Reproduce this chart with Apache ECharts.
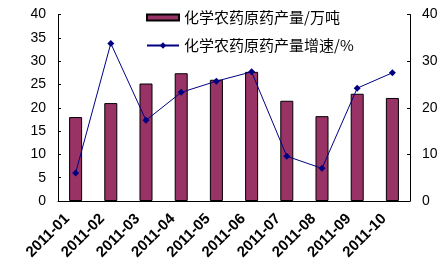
<!DOCTYPE html>
<html><head><meta charset="utf-8">
<script src="https://cdn.jsdelivr.net/npm/echarts@6/dist/echarts.min.js"></script>
<style>html,body{margin:0;padding:0;background:#fff}#c{width:448px;height:264px}</style>
</head><body><div id="c"></div>
<script>
var categories = ['2011-01','2011-02','2011-03','2011-04','2011-05','2011-06','2011-07','2011-08','2011-09','2011-10'];
var output = [18.0, 21.0, 25.2, 27.4, 26.0, 27.7, 21.5, 18.2, 23.0, 22.1];
var growth = [6.0, 33.8, 17.3, 23.3, 25.7, 27.7, 9.6, 7.0, 24.2, 27.5];
var leftTicks = [0,5,10,15,20,25,30,35,40];
var rightTicks = [0,10,20,30,40];
var barName = '化学农药原药产量/万吨';
var lineName = '化学农药原药产量增速/%';

var chart = echarts.init(document.getElementById('c'), null, {renderer:'canvas'});
var axisFont = {fontFamily:'Arial, Liberation Sans', fontSize:14, color:'#000'};
chart.setOption({
  animation:false,
  grid:{left:58, right:38, top:14.5, bottom:63},
  legend:[
    {data:[{name:barName, icon:'rect'}], left:141, top:5, itemWidth:32, itemHeight:6, itemGap:4,
     textStyle:{fontFamily:'Noto Sans CJK SC', fontSize:15, color:'#000'}},
    {data:[lineName], left:141, top:33, itemWidth:32, itemHeight:8, itemGap:4,
     textStyle:{fontFamily:'Noto Sans CJK SC', fontSize:15, color:'#000'}}
  ],
  xAxis:{type:'category', data:categories, boundaryGap:true,
    axisLine:{lineStyle:{color:'#000', width:1}},
    axisTick:{inside:true, length:3, lineStyle:{color:'#000'}},
    axisLabel:{rotate:45, interval:0, margin:7, padding:[0,12,0,0],
      fontFamily:'Arial, Liberation Sans', fontWeight:'bold', fontSize:15, color:'#000'}},
  yAxis:[
    {type:'value', min:0, max:40, interval:5, position:'left',
     axisLine:{show:true, lineStyle:{color:'#000'}},
     axisTick:{show:true, inside:true, length:3, lineStyle:{color:'#000'}},
     splitLine:{show:false},
     axisLabel:Object.assign({margin:12}, axisFont)},
    {type:'value', min:0, max:40, interval:10, position:'right',
     axisLine:{show:true, lineStyle:{color:'#000'}},
     axisTick:{show:true, inside:true, length:3, lineStyle:{color:'#000'}},
     splitLine:{show:false},
     axisLabel:Object.assign({margin:12}, axisFont)}
  ],
  series:[
    {name:barName, type:'bar', data:output, yAxisIndex:0, barWidth:'37%',
     itemStyle:{color:'#993366', borderColor:'#000', borderWidth:1}},
    {name:lineName, type:'line', data:growth, yAxisIndex:1,
     symbol:'diamond', symbolSize:7,
     lineStyle:{color:'#000080', width:1},
     itemStyle:{color:'#000080'}}
  ]
});
</script></body></html>
